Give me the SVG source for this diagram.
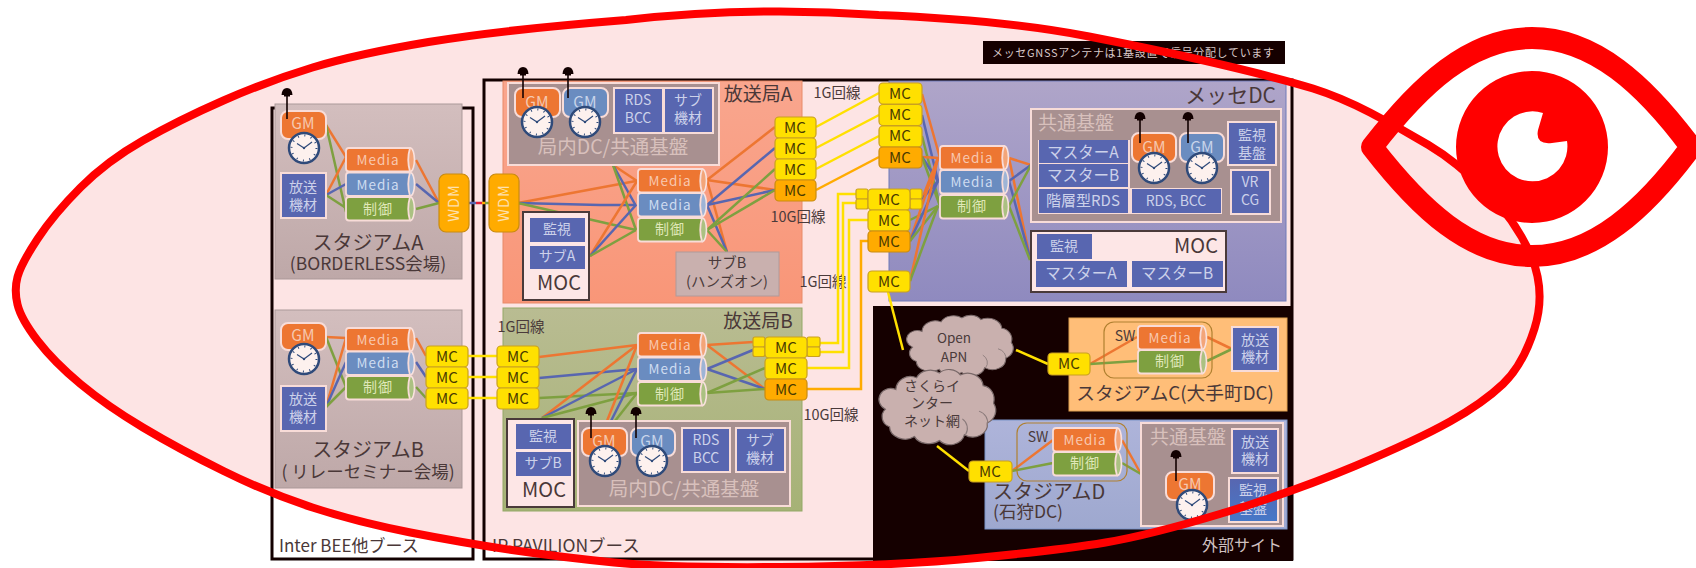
<svg xmlns="http://www.w3.org/2000/svg" xmlns:xlink="http://www.w3.org/1999/xlink" width="1696" height="568" viewBox="0 0 1696 568">
<style>
text{font-family:"Noto Sans CJK JP","Noto Sans",sans-serif;text-anchor:middle}
.bl{fill:#5866b0;stroke:#f8dcd8;stroke-width:2}
.blf{fill:#5866b0;stroke:none}
.w{fill:#ccd1ea;font-size:14px}
.w2{fill:#ccd1ea;font-size:15.500px}
.d{fill:#4a3a3a}
.l{font-size:20px;fill:#4a3838}
.s{font-size:17.500px;fill:#4a3838}
.tag{font-size:14.500px;fill:#4a3a3a}
.sta{stroke:#ab9999;stroke-width:1;fill:url(#gs)}
.dc{fill:#a89090;stroke:#f8dcd8;stroke-width:2}
.dt{font-size:19px;fill:#d8c0bc}
.moc{fill:#fde6e6;stroke:#4a3a3a;stroke-width:2}
.gm{stroke:#f8dcd8;stroke-width:2}
.go{fill:#ed7632}.gb{fill:#6a8cc0}
.gt{font-size:15.500px;fill:#f6c8b0}
.gt2{font-size:15.500px;fill:#c8d4ea}
.mc{fill:#ffe000;stroke:#c9a020;stroke-width:1.2}
.mo{fill:#ffab00;stroke:#c98b10;stroke-width:1.2}
.mt{font-size:15px;fill:#4a3a00}
.wdm{fill:#ffab00;stroke:#c98b10;stroke-width:1.2}
.wt{font-size:14.500px;fill:#fde0b0;letter-spacing:1px}
.ct{font-size:13.500px;letter-spacing:1px}
.cm{font-size:14px;letter-spacing:1px}
.co,.cb,.cg,.cy,.ca{fill:none;stroke-width:2.5}
.co{stroke:#ed7632}.cb{stroke:#5866b0}.cg{stroke:#7ea040}.cy{stroke:#ffe000}.ca{stroke:#ffab00}
.sw{fill:none;stroke:#b08030;stroke-width:1.2}
.cl{fill:#c9b0ae;stroke:#7a6a6a;stroke-width:1.2}
.cli{fill:none;stroke:#8a7a7a;stroke-width:1}
.booth{fill:none;stroke:#120000;stroke-width:3}
</style>
<defs>
<linearGradient id="gs" x1="0" y1="0" x2="0" y2="1"><stop offset="0" stop-color="#d3bebe"/><stop offset="1" stop-color="#bea8a8"/></linearGradient>
<linearGradient id="gm" x1="0" y1="0" x2="0" y2="1"><stop offset="0" stop-color="#afa5c9"/><stop offset="1" stop-color="#8f8abf"/></linearGradient>
<linearGradient id="ga" x1="0" y1="0" x2="0" y2="1"><stop offset="0" stop-color="#f9a68e"/><stop offset="1" stop-color="#f99678"/></linearGradient>
<linearGradient id="gb" x1="0" y1="0" x2="0" y2="1"><stop offset="0" stop-color="#b9bc92"/><stop offset="1" stop-color="#a6b276"/></linearGradient>
<linearGradient id="gd" x1="0" y1="0" x2="0" y2="1"><stop offset="0" stop-color="#aeb4da"/><stop offset="1" stop-color="#9ea8cf"/></linearGradient>
<linearGradient id="gw" x1="0" y1="0" x2="0" y2="1"><stop offset="0" stop-color="#5866b0"/><stop offset="1" stop-color="#4678c8"/></linearGradient>
<g id="clock">
<circle r="15" fill="#fdf1ee" stroke="#2f4a7a" stroke-width="2.5"/>
<circle r="12.5" fill="none" stroke="#2f4a7a" stroke-width="2" stroke-dasharray="1 5.545"/>
<path d="M-7 -4.500L0 0L8 -6" fill="none" stroke="#2f4a7a" stroke-width="1.200"/>
<circle r="1.200" fill="#2f4a7a"/>
</g>
<g id="ant">
<path d="M-5.500 4Q-5 -3 0 -3Q5 -3 5.500 4Z" fill="#120000"/>
<rect x="-3" y="4" width="6" height="1.500" fill="#120000"/>
<path d="M0 4V28" stroke="#120000" stroke-width="1.600"/>
</g>
<g id="can">
<ellipse cx="64.500" cy="11.750" rx="4" ry="11.750" fill="currentColor" stroke="#f8dcd8" stroke-width="1.600"/>
<ellipse cx="64.500" cy="11.750" rx="4" ry="11.750" fill="#fff" fill-opacity=".35"/>
<path d="M3 0H64Q60.500 11.750 64 23.500H3Q0 23.500 0 20.500V3Q0 0 3 0Z" fill="currentColor" stroke="#f8dcd8" stroke-width="1.800"/>
</g>
<g id="cloud">
<path d="M20 22A14 14 0 0 1 40 10A14 12 0 0 1 62 5A13 12 0 0 1 82 7A15 14 0 0 1 104 18A12 14 0 0 1 114 36A14 14 0 0 1 108 56A14 13 0 0 1 86 68A14 13 0 0 1 62 74A15 12 0 0 1 38 70A15 13 0 0 1 14 60A11 11 0 0 1 10 42A11 11 0 0 1 20 22Z"/>
<path class="cli" d="M100 44A12 12 0 0 1 108 58M84 52A12 12 0 0 1 87 68"/>
</g>
</defs>

<path id="bubble-fill" fill="#fde4e4" d="M17.500 277Q21 264 37.500 239Q54 214 80.500 187.500Q107 161 143 140.500Q179 120 223.500 100.500Q268 81 312.500 67.500Q357 54 428.500 42Q500 30 626 20Q752 6 878.500 15Q1005 20 1089 36.500Q1173 53 1229.500 66.500Q1286 80 1313 88.500Q1340 97 1370 112.500Q1400 128 1428.500 145Q1457 162 1487 192Q1517 222 1531.500 257Q1546 292 1534.500 328.500Q1523 365 1503 384Q1483 403 1450 421.500Q1417 440 1355 466Q1293 492 1221.500 513.500Q1150 535 1105.500 542.500Q1061 550 977 558Q893 566 780.500 567Q668 568 614 562.500Q560 557 512 550Q464 543 410.500 532.500Q357 522 312.500 507.500Q268 493 223.500 471Q179 449 143 427.500Q107 406 80.500 384Q54 362 37.500 340.500Q21 319 17.500 304.500Q14 290 17.500 277Z"/>

<g id="containers">
<rect id="booth-inter" class="booth" x="272" y="108" width="201" height="451"/>
<rect id="booth-ip" class="booth" x="484" y="80" width="808" height="479"/>
<rect id="outside-sites" x="873" y="306" width="420" height="255" fill="#150000"/>
<rect id="gnss-note" x="983" y="41" width="302" height="23" fill="#150000"/>
<text x="1133" y="57" font-size="11" fill="#d8c8c8" textLength="282">メッセGNSSアンテナは1基設置で信号分配しています</text>
<rect id="stadium-a" class="sta" x="275" y="104" width="187" height="175"/>
<rect id="stadium-b" class="sta" x="275" y="310" width="187" height="178"/>
<rect id="station-a" x="503" y="81" width="299" height="222" fill="url(#ga)" stroke="#e88a68"/>
<rect id="station-b" x="503" y="308" width="299" height="203" fill="url(#gb)" stroke="#93a866"/>
<rect id="messe" x="889" y="81" width="397" height="220" fill="url(#gm)" stroke="#6f7bb8"/>
<rect id="stadium-c" x="1069" y="318" width="218" height="93" fill="#ffbe78" stroke="#e0a050"/>
<rect id="stadium-d" x="985" y="420" width="302" height="109" fill="url(#gd)" stroke="#7a94c8"/>
<text class="l" x="368" y="250">スタジアムA</text>
<text class="s" x="368" y="270">(BORDERLESS会場)</text>
<text class="l" x="368" y="457">スタジアムB</text>
<text class="s" x="368" y="478">( リレーセミナー会場)</text>
<text class="l" x="758" y="101" style="font-size:19px">放送局A</text>
<text class="l" x="758" y="328" style="font-size:19px">放送局B</text>
<text class="l" x="1276" y="103" style="text-anchor:end;font-size:21px">メッセDC</text>
<text class="l" x="1175" y="400" style="font-size:18.700px">スタジアムC(大手町DC)</text>
<text class="l" x="993" y="499" style="text-anchor:start">スタジアムD</text>
<text class="s" x="993" y="518" style="text-anchor:start">(石狩DC)</text>
<text class="s" x="279" y="552" style="text-anchor:start;font-size:17px">Inter BEE他ブース</text>
<text class="s" x="492" y="552" style="text-anchor:start">IP PAVILIONブース</text>
<text x="1282" y="551" font-size="16" fill="#d0c0c0" style="text-anchor:end">外部サイト</text>
<text class="tag" x="837" y="98">1G回線</text>
<text class="tag" x="798" y="222">10G回線</text>
<text class="tag" x="823" y="287">1G回線</text>
<text class="tag" x="521" y="332">1G回線</text>
<text class="tag" x="831" y="420">10G回線</text>
</g>

<g id="connectors">
<path class="co" d="M326 125L346 157"/><path class="cg" d="M326 125L346 212"/>
<path class="co" d="M326 195L346 157"/><path class="cb" d="M326 195L346 184"/><path class="cg" d="M326 195L346 208"/>
<path class="co" d="M416 160L439 203"/><path class="cb" d="M416 184L439 203"/><path class="cg" d="M416 209L439 203"/>
<path class="cb" d="M469 203H476"/><path d="M476 203H482" stroke="#e0203a" stroke-width="2.500"/><path class="ca" d="M482 203H485"/><path class="cg" d="M485 203H489"/>
<path class="co" d="M326 337L346 338"/><path class="cg" d="M326 337L346 387"/>
<path class="co" d="M326 407L346 338"/><path class="cb" d="M326 407L346 362"/><path class="cg" d="M326 407L346 387"/>
<path class="co" d="M416 338L426 356"/><path class="cb" d="M416 362L426 377"/><path class="cg" d="M416 387L426 398"/>
<path class="cy" d="M468 356H497"/><path class="cy" d="M468 377H497"/><path class="cy" d="M468 398H497"/>
<path class="co" d="M518 203L636 181"/><path class="cb" d="M518 203L600 205L636 205"/><path class="cg" d="M518 203L636 230"/>
<path class="co" d="M613 165L637 181"/><path class="cb" d="M613 165L636 206"/><path class="cg" d="M613 165L636 230"/>
<path class="co" d="M590 256L637 181"/><path class="cb" d="M590 256L636 205"/><path class="cg" d="M590 256L636 230"/>
<path class="co" d="M707 180L775 127"/><path class="co" d="M707 180L775 190"/><path class="co" d="M707 180L727 252"/>
<path class="cb" d="M707 205L775 148"/><path class="cb" d="M707 205L775 190"/><path class="cb" d="M707 205L727 252"/>
<path class="cg" d="M707 230L775 169"/><path class="cg" d="M707 230L775 190"/><path class="cg" d="M707 230L727 252"/>
<path class="co" d="M539 357L637 345"/><path class="cb" d="M539 378L637 369"/><path class="cg" d="M539 398L637 393"/>
<path class="co" d="M542 418L637 345"/><path class="cb" d="M542 418L637 369"/><path class="cg" d="M542 418L637 393"/>
<path class="co" d="M607 421L637 345"/><path class="cb" d="M611 421L637 369"/><path class="cg" d="M615 421L637 393"/>
<path class="co" d="M707 345L753 342"/><path class="co" d="M707 345L765 389"/>
<path class="cb" d="M707 369L753 350"/><path class="cb" d="M707 369L765 389"/>
<path class="cg" d="M707 393L765 368"/><path class="cg" d="M707 393L765 389"/>
<path class="cy" d="M816 127L879 93"/><path class="cy" d="M816 148L879 115"/><path class="cy" d="M816 169L879 136"/><path class="ca" d="M816 190L879 157"/>
<path class="cy" d="M820 343H838V194H856"/><path class="cy" d="M820 352H843V203H856"/>
<path class="cy" d="M807 368H849V220H868"/><path class="ca" d="M807 389H861V241H868"/>
<path class="co" d="M922 94L940 158"/><path class="cb" d="M922 115L938 181"/><path class="cg" d="M922 136L940 206"/>
<path class="co" d="M922 157L940 158"/><path class="cb" d="M922 157L938 181"/><path class="cg" d="M922 157L940 206"/>
<path class="co" d="M922 199L938 158"/><path class="cb" d="M922 199L938 181"/>
<path class="cg" d="M910 220L938 206"/>
<path class="co" d="M910 241L938 158"/><path class="cb" d="M910 241L938 181"/><path class="cg" d="M910 241L938 206"/>
<path class="co" d="M910 281L938 158"/><path class="cg" d="M910 281L938 206"/>
<path class="co" d="M1009 158L1031 165"/><path class="co" d="M1009 158L1030 258"/>
<path class="cb" d="M1009 181L1031 165"/><path class="cb" d="M1009 181L1030 258"/>
<path class="cg" d="M1009 206L1031 165"/><path class="cg" d="M1009 206L1030 260"/>
<path class="cy" d="M888 292L903 350"/><path class="cy" d="M1016 350L1048 364"/><path class="cy" d="M937 446L969 471"/>
<path class="co" d="M1090 364L1137 337"/><path class="cg" d="M1090 364L1137 361"/>
<path class="co" d="M1207 337L1232 349"/><path class="cg" d="M1207 361L1232 349"/>
<path class="co" d="M1012 471L1053 440"/><path class="cg" d="M1012 471L1053 463"/>
<path class="co" d="M1122 440L1141 474"/><path class="cg" d="M1122 463L1141 474"/>
</g>

<g id="node-sa">
<rect class="gm go" x="281" y="111" width="45" height="28" rx="7"/><text class="gt" x="303" y="129">GM</text>
<use href="#clock" x="304" y="148"/><use href="#ant" x="287" y="91"/>
<rect class="bl" x="281" y="173" width="45" height="45"/><text class="w" x="303" y="192">放送</text><text class="w" x="303" y="210">機材</text>
<use href="#can" x="346" y="148" style="color:#ed7632"/><text class="ct" fill="#f8c8b0" x="378" y="165">Media</text>
<use href="#can" x="346" y="172.500" style="color:#6a8cc0"/><text class="ct" fill="#cfdcf0" x="378" y="190">Media</text>
<use href="#can" x="346" y="197" style="color:#7ea040"/><text class="cm" fill="#e0e8b8" x="378" y="214">制御</text>
<rect class="wdm" x="439" y="174" width="30" height="58" rx="7"/><text class="wt" transform="rotate(-90 454 203)" x="454" y="208">WDM</text>
</g>
<g id="node-sb">
<rect class="gm go" x="281" y="323" width="45" height="27" rx="7"/><text class="gt" x="303" y="341">GM</text>
<use href="#clock" x="304" y="359"/>
<rect class="bl" x="281" y="386" width="45" height="45"/><text class="w" x="303" y="404">放送</text><text class="w" x="303" y="422">機材</text>
<use href="#can" x="346" y="328" style="color:#ed7632"/><text class="ct" fill="#f8c8b0" x="378" y="345">Media</text>
<use href="#can" x="346" y="351.500" style="color:#6a8cc0"/><text class="ct" fill="#cfdcf0" x="378" y="368">Media</text>
<use href="#can" x="346" y="376" style="color:#7ea040"/><text class="cm" fill="#e0e8b8" x="378" y="392">制御</text>
<rect class="mc" x="426" y="346" width="42" height="21" rx="4"/><text class="mt" x="447" y="362">MC</text>
<rect class="mc" x="426" y="367" width="42" height="21" rx="4"/><text class="mt" x="447" y="383">MC</text>
<rect class="mc" x="426" y="388" width="42" height="21" rx="4"/><text class="mt" x="447" y="404">MC</text>
</g>
<g id="node-a">
<rect class="dc" x="508" y="83" width="211" height="82"/>
<rect class="gm go" x="515" y="88" width="45" height="29" rx="7"/><text class="gt" x="537" y="108">GM</text>
<rect class="gm gb" x="563" y="88" width="45" height="29" rx="7"/><text class="gt2" x="585" y="108">GM</text>
<use href="#clock" x="537" y="122"/><use href="#clock" x="585" y="122"/>
<use href="#ant" x="523" y="70"/><use href="#ant" x="568" y="70"/>
<rect class="bl" x="614" y="88" width="49" height="45"/><text class="w" x="638" y="105">RDS</text><text class="w" x="638" y="123">BCC</text>
<rect class="bl" x="664" y="88" width="49" height="45"/><text class="w" x="688" y="105">サブ</text><text class="w" x="688" y="123">機材</text>
<text class="dt" x="613" y="154" style="font-size:19.500px">局内DC/共通基盤</text>
<use href="#can" x="638" y="169" style="color:#ed7632"/><text class="ct" fill="#f8c8b0" x="670" y="186">Media</text>
<use href="#can" x="638" y="193" style="color:#6a8cc0"/><text class="ct" fill="#cfdcf0" x="670" y="210">Media</text>
<use href="#can" x="638" y="218" style="color:#7ea040"/><text class="cm" fill="#e0e8b8" x="670" y="234">制御</text>
<rect class="wdm" x="489" y="174" width="30" height="58" rx="7"/><text class="wt" transform="rotate(-90 504 203)" x="504" y="208">WDM</text>
<rect class="moc" x="523" y="212" width="66" height="88"/>
<rect class="blf" x="530" y="218" width="55" height="24"/><text class="w" x="557" y="234">監視</text>
<rect class="blf" x="530" y="246" width="55" height="23"/><text class="w" x="557" y="261">サブA</text>
<text class="l" x="559" y="290">MOC</text>
<rect x="676" y="252" width="103" height="44" fill="#c9b0ae" stroke="#b09a9a"/>
<text x="727" y="268" font-size="14.500" fill="#4a3a3a">サブB</text><text x="727" y="287" font-size="14.500" fill="#4a3a3a">(ハンズオン)</text>
<rect class="mc" x="775" y="117" width="41" height="21" rx="4"/><text class="mt" x="795" y="133">MC</text>
<rect class="mc" x="775" y="138" width="41" height="21" rx="4"/><text class="mt" x="795" y="154">MC</text>
<rect class="mc" x="775" y="159" width="41" height="21" rx="4"/><text class="mt" x="795" y="175">MC</text>
<rect class="mo" x="775" y="180" width="41" height="21" rx="4"/><text class="mt" x="795" y="196">MC</text>
</g>
<g id="node-b">
<rect class="mc" x="497" y="346" width="42" height="21" rx="4"/><text class="mt" x="518" y="362">MC</text>
<rect class="mc" x="497" y="367" width="42" height="21" rx="4"/><text class="mt" x="518" y="383">MC</text>
<rect class="mc" x="497" y="388" width="42" height="21" rx="4"/><text class="mt" x="518" y="404">MC</text>
<use href="#can" x="638" y="333" style="color:#ed7632"/><text class="ct" fill="#f8c8b0" x="670" y="350">Media</text>
<use href="#can" x="638" y="357.500" style="color:#6a8cc0"/><text class="ct" fill="#cfdcf0" x="670" y="374">Media</text>
<use href="#can" x="638" y="382" style="color:#7ea040"/><text class="cm" fill="#e0e8b8" x="670" y="399">制御</text>
<rect class="moc" x="507" y="419" width="67" height="88"/>
<rect class="blf" x="516" y="424" width="55" height="25"/><text class="w" x="543" y="441">監視</text>
<rect class="blf" x="516" y="452" width="55" height="24"/><text class="w" x="543" y="468">サブB</text>
<text class="l" x="544" y="497">MOC</text>
<rect class="dc" x="578" y="421" width="212" height="85"/>
<rect class="gm go" x="582" y="428" width="45" height="28" rx="7"/><text class="gt" x="604" y="447">GM</text>
<rect class="gm gb" x="631" y="428" width="44" height="28" rx="7"/><text class="gt2" x="652" y="447">GM</text>
<use href="#clock" x="605" y="461"/><use href="#clock" x="652" y="461"/>
<use href="#ant" x="591" y="410"/><use href="#ant" x="636" y="410"/>
<rect class="bl" x="682" y="428" width="48" height="44"/><text class="w" x="706" y="445">RDS</text><text class="w" x="706" y="463">BCC</text>
<rect class="bl" x="736" y="428" width="49" height="44"/><text class="w" x="760" y="445">サブ</text><text class="w" x="760" y="463">機材</text>
<text class="dt" x="684" y="496" style="font-size:19.500px">局内DC/共通基盤</text>
<rect class="mc" x="753" y="337" width="12" height="10" rx="2"/><rect class="mc" x="753" y="347" width="12" height="9.500" rx="2"/>
<rect class="mc" x="807" y="337" width="13" height="10" rx="2"/><rect class="mc" x="807" y="347" width="13" height="9.500" rx="2"/>
<rect class="mc" x="765" y="337" width="42" height="21" rx="4"/><text class="mt" x="786" y="353">MC</text>
<rect class="mc" x="765" y="358" width="42" height="21" rx="4"/><text class="mt" x="786" y="374">MC</text>
<rect class="mo" x="765" y="379" width="42" height="21" rx="4"/><text class="mt" x="786" y="395">MC</text>
</g>
<g id="node-m">
<rect class="mc" x="879" y="83" width="43" height="21" rx="4"/><text class="mt" x="900" y="99">MC</text>
<rect class="mc" x="879" y="104.500" width="43" height="21" rx="4"/><text class="mt" x="900" y="120">MC</text>
<rect class="mc" x="879" y="126" width="43" height="21" rx="4"/><text class="mt" x="900" y="141">MC</text>
<rect class="mo" x="879" y="147" width="43" height="21" rx="4"/><text class="mt" x="900" y="163">MC</text>
<rect class="mc" x="856" y="189" width="12" height="10" rx="2"/><rect class="mc" x="856" y="199" width="12" height="10" rx="2"/>
<rect class="mc" x="910" y="189" width="12" height="10" rx="2"/><rect class="mc" x="910" y="199" width="12" height="10" rx="2"/>
<rect class="mc" x="868" y="189" width="42" height="21" rx="4"/><text class="mt" x="889" y="205">MC</text>
<rect class="mc" x="868" y="210" width="42" height="21" rx="4"/><text class="mt" x="889" y="226">MC</text>
<rect class="mo" x="868" y="231" width="42" height="21" rx="4"/><text class="mt" x="889" y="247">MC</text>
<rect class="mc" x="868" y="271" width="42" height="21" rx="4"/><text class="mt" x="889" y="287">MC</text>
<use href="#can" x="940" y="146" style="color:#ed7632"/><text class="ct" fill="#f8c8b0" x="972" y="163">Media</text>
<use href="#can" x="940" y="170" style="color:#6a8cc0"/><text class="ct" fill="#cfdcf0" x="972" y="187">Media</text>
<use href="#can" x="940" y="195" style="color:#7ea040"/><text class="cm" fill="#e0e8b8" x="972" y="211">制御</text>
<rect class="dc" x="1031" y="109" width="250" height="113"/>
<text class="dt" x="1076" y="130">共通基盤</text>
<path d="M1130 140H1038V214H1222V188H1130Z" fill="#f8dcd8"/>
<rect class="blf" x="1039" y="140" width="89" height="23"/><text class="w2" x="1083" y="158">マスターA</text>
<rect class="blf" x="1039" y="164" width="89" height="23"/><text class="w2" x="1083" y="181">マスターB</text>
<rect class="blf" x="1039" y="189" width="89" height="24"/><text class="w" x="1083" y="206" style="font-size:15px">階層型RDS</text>
<rect class="blf" x="1132" y="189" width="89" height="24"/><text class="w" x="1176" y="206">RDS, BCC</text>
<rect class="gm go" x="1132" y="133" width="44" height="29" rx="7"/><text class="gt" x="1154" y="153">GM</text>
<rect class="gm gb" x="1180" y="133" width="44" height="29" rx="7"/><text class="gt2" x="1202" y="153">GM</text>
<use href="#clock" x="1154" y="168"/><use href="#clock" x="1202" y="168"/>
<use href="#ant" x="1140" y="115"/><use href="#ant" x="1188" y="115"/>
<rect class="bl" x="1228" y="122" width="48" height="43"/><text class="w" x="1252" y="140">監視</text><text class="w" x="1252" y="158">基盤</text>
<rect class="bl" x="1231" y="170" width="39" height="44"/><text class="w" x="1250" y="187">VR</text><text class="w" x="1250" y="205">CG</text>
<rect class="moc" x="1031" y="231" width="195" height="61"/>
<rect class="blf" x="1037" y="234" width="55" height="25"/><text class="w" x="1064" y="251">監視</text>
<rect class="blf" x="1036" y="261" width="91" height="26"/><text class="w2" x="1081" y="279">マスターA</text>
<rect class="blf" x="1132" y="261" width="91" height="26"/><text class="w2" x="1177" y="279">マスターB</text>
<text class="l" x="1196" y="253">MOC</text>
</g>
<g id="node-clouds">
<use href="#cloud" class="cl" transform="translate(903 314) scale(.95 .79)"/>
<text class="tag" style="font-size:13.500px" x="954" y="343">Open</text><text class="tag" style="font-size:13.500px" x="954" y="362">APN</text>
<use href="#cloud" class="cl" transform="translate(875 368) scale(1.040 .98)"/>
<text class="tag" style="font-size:14px" x="932" y="391">さくらイ</text><text class="tag" style="font-size:14px" x="932" y="408">ンター</text><text class="tag" style="font-size:14px" x="932" y="426">ネット網</text>
</g>
<g id="node-c">
<rect class="mc" x="1048" y="353" width="42" height="22" rx="4"/><text class="mt" x="1069" y="369">MC</text>
<rect class="sw" x="1104" y="322" width="108" height="56" rx="10"/>
<text class="tag" style="font-size:14px" x="1125" y="341">SW</text>
<use href="#can" x="1138" y="326" style="color:#ed7632"/><text class="ct" fill="#f8c8b0" x="1170" y="343">Media</text>
<use href="#can" x="1138" y="350" style="color:#7ea040"/><text class="cm" fill="#e0e8b8" x="1170" y="366">制御</text>
<rect class="bl" x="1232" y="327" width="46" height="44"/><text class="w" x="1255" y="345">放送</text><text class="w" x="1255" y="362">機材</text>
</g>
<g id="node-d">
<rect class="mc" x="969" y="461" width="43" height="21" rx="4"/><text class="mt" x="990" y="477">MC</text>
<rect class="sw" x="1017" y="423" width="110" height="58" rx="10"/>
<text class="tag" style="font-size:14px" x="1038" y="442">SW</text>
<use href="#can" x="1053" y="428" style="color:#ed7632"/><text class="ct" fill="#f8c8b0" x="1085" y="445">Media</text>
<use href="#can" x="1053" y="452" style="color:#7ea040"/><text class="cm" fill="#e0e8b8" x="1085" y="468">制御</text>
<rect class="dc" x="1141" y="423" width="142" height="103"/>
<text class="dt" x="1188" y="444">共通基盤</text>
<rect class="bl" x="1232" y="429" width="46" height="44"/><text class="w" x="1255" y="447">放送</text><text class="w" x="1255" y="464">機材</text>
<rect x="1229" y="478" width="49" height="44" fill="url(#gw)" stroke="#f8dcd8" stroke-width="2"/><text class="w" x="1253" y="495">監視</text><text class="w" x="1253" y="513">基盤</text>
<rect class="gm go" x="1166" y="472" width="48" height="28" rx="7"/><text class="gt" x="1190" y="490">GM</text>
<use href="#clock" x="1192" y="505"/><use href="#ant" x="1176" y="453"/>
</g>

<path id="bubble-outline" fill="none" stroke="#ff0000" stroke-width="8" d="M17.500 277Q21 264 37.500 239Q54 214 80.500 187.500Q107 161 143 140.500Q179 120 223.500 100.500Q268 81 312.500 67.500Q357 54 428.500 42Q500 30 626 20Q752 6 878.500 15Q1005 20 1089 36.500Q1173 53 1229.500 66.500Q1286 80 1313 88.500Q1340 97 1370 112.500Q1400 128 1428.500 145Q1457 162 1487 192Q1517 222 1531.500 257Q1546 292 1534.500 328.500Q1523 365 1503 384Q1483 403 1450 421.500Q1417 440 1355 466Q1293 492 1221.500 513.500Q1150 535 1105.500 542.500Q1061 550 977 558Q893 566 780.500 567Q668 568 614 562.500Q560 557 512 550Q464 543 410.500 532.500Q357 522 312.500 507.500Q268 493 223.500 471Q179 449 143 427.500Q107 406 80.500 384Q54 362 37.500 340.500Q21 319 17.500 304.500Q14 290 17.500 277Z"/>
<g id="eye">
<path d="M1372 147C1420 85 1470 38 1532 38C1594 38 1645 85 1691 147C1645 209 1594 256 1532 256C1470 256 1420 209 1372 147Z" fill="none" stroke="#ff0000" stroke-width="22" stroke-linejoin="round"/>
<path fill="#ff0000" fill-rule="evenodd" d="M1456 147A76 76 0 1 0 1608 147A76 76 0 1 0 1456 147ZM1543 113A35 35 0 1 0 1567 141L1552 143Q1535 145 1538 130Z"/>
</g>
</svg>
